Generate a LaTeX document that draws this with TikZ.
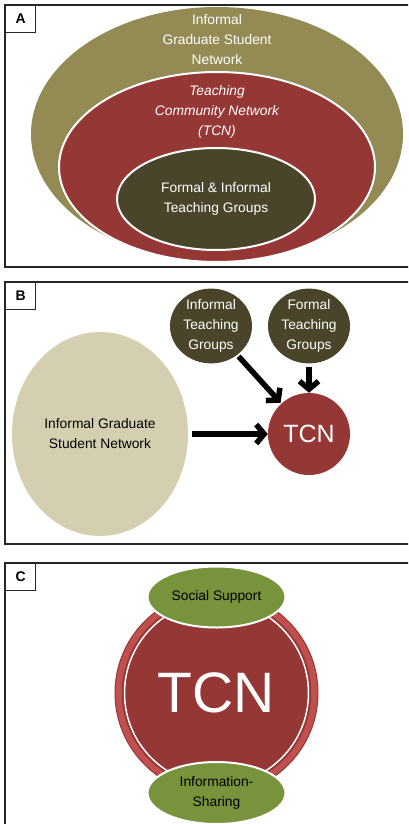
\documentclass[tikz,border=0pt]{standalone}
\usepackage{fontspec}
\setmainfont{Liberation Sans}
\usetikzlibrary{arrows.meta,shapes.geometric}

\definecolor{olivetan}{HTML}{948A54}
\definecolor{tcnred}{HTML}{953735}
\definecolor{darkbrown}{HTML}{4A452A}
\definecolor{beige}{HTML}{D5CFB2}
\definecolor{ringred}{HTML}{C0504D}
\definecolor{leaf}{HTML}{77933C}

\tikzset{
  panel/.style={draw=black!85,line width=1.6},
  tag/.style={draw=black!85,line width=1.2,fill=white,font=\fontsize{14}{16}\selectfont\bfseries,
    minimum width=30,minimum height=27,inner sep=0,anchor=north west},
  blob/.style={ellipse,inner sep=0,align=center},
  bigarrow/.style={line width=5.5,-{Straight Barb[length=8,width=19]}},
}

\begin{document}
\begin{tikzpicture}[x=1pt,y=-1pt,font=\fontsize{13.8}{20}\selectfont]
  \useasboundingbox (0,0) rectangle (408,824);
  \clip (0,0) rectangle (408,824);
  \fill[white] (0,0) rectangle (408,824);

  % A: nested networks
  \draw[panel] (5,5) rectangle (415,267);
  \node[blob,fill=olivetan,minimum width=372,minimum height=254] (gsn) at (217,134) {};
  \node[blob,fill=tcnred,draw=white,line width=2,minimum width=316,minimum height=190] (tcnA) at (217,167) {};
  \node[blob,fill=darkbrown,draw=white,line width=2,minimum width=198,minimum height=102,text=white] (groups) at (216,199) {Formal \& Informal\\Teaching Groups};
  \node[text=white,align=center] (gsnlabel) at (217,40) {Informal\\Graduate Student\\Network};
  \node[text=white,align=center,font=\fontsize{13.8}{20}\selectfont\itshape] (tcnlabel) at (217,112) {Teaching\\Community Network\\(TCN)};
  \node[tag] (tagA) at (5,5) {A};

  % B: inputs to the TCN
  \draw[panel] (5,282) rectangle (415,544);
  \node[blob,fill=beige,minimum width=176,minimum height=204] (igsn) at (100,434) {Informal Graduate\\Student Network};
  \node[blob,fill=darkbrown,text=white,minimum width=82,minimum height=74] (itg) at (211,326) {Informal\\Teaching\\Groups};
  \node[blob,fill=darkbrown,text=white,minimum width=82,minimum height=74] (ftg) at (309,326) {Formal\\Teaching\\Groups};
  \node[circle,fill=tcnred,text=white,minimum size=82,inner sep=0,font=\fontsize{25}{28}\selectfont] (tcnB) at (309,434) {TCN};
  \draw[bigarrow,shorten <=4] (igsn.east) -- (tcnB.west);
  \draw[bigarrow,shorten <=2,shorten >=1] (itg) -- (tcnB);
  \draw[bigarrow,shorten <=3] (ftg) -- (tcnB);
  \node[tag] (tagB) at (5,282) {B};

  % C: what the TCN gives
  \draw[panel] (5,563) rectangle (415,840);
  \node[circle,fill=ringred,draw=tcnred,line width=1,minimum size=203,inner sep=0] (ring) at (216.5,693) {};
  \node[circle,fill=tcnred,draw=tcnred,double=white,double distance=1.5,line width=2,minimum size=184,inner sep=0,
    text=white,font=\fontsize{57}{60}\selectfont] (tcnC) at (ring) {TCN};
  \node[blob,fill=leaf,draw=white,line width=2,minimum width=138,minimum height=61] (social) at (216.5,597) {Social Support};
  \node[blob,fill=leaf,draw=white,line width=2,minimum width=138,minimum height=62] (info) at (216.5,793) {Information-\\Sharing};
  \node[tag] (tagC) at (5,563) {C};
\end{tikzpicture}
\end{document}
